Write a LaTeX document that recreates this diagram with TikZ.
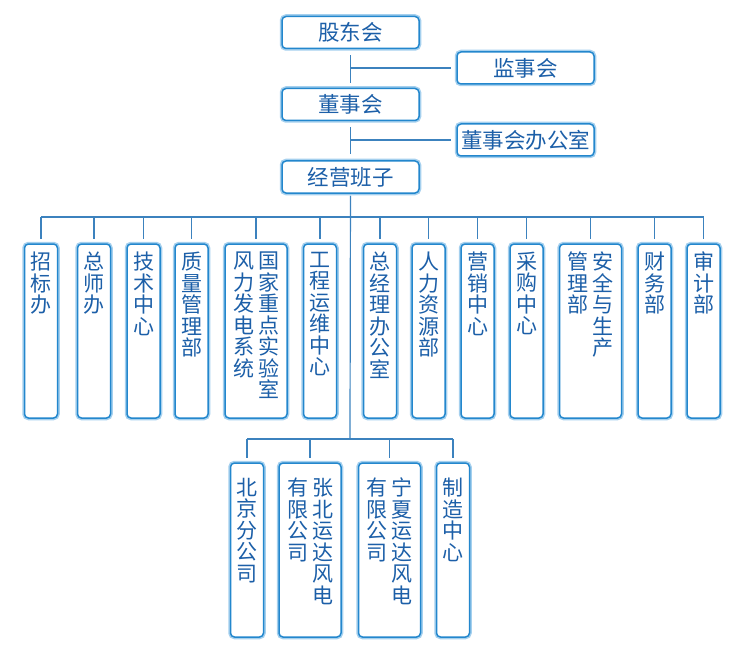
\documentclass[tikz,border=0pt]{standalone}
\usepackage{fontspec}
\newfontfamily\cjk{Noto Sans CJK SC}
\usetikzlibrary{positioning}
\definecolor{orgLine}{RGB}{60,130,190}
\definecolor{orgEdge}{RGB}{35,135,205}
\definecolor{orgGlow}{RGB}{165,208,238}
\definecolor{orgText}{RGB}{28,95,168}
% one column of stacked characters
\newcommand{\vcol}[1]{\parbox[t]{21pt}{\centering #1}}
% text hung from the top of a department box
\newcommand{\deptlabel}[2][158pt]{\parbox[c][#1][t]{0pt}{\hbox to 0pt{\hss#2\hss}}}

\begin{document}
\begin{tikzpicture}[x=1pt,y=-1pt,
  box/.style={draw=orgEdge, line width=1.5pt, rounded corners=4pt, fill=white,
    text=orgText, font=\cjk\fontsize{21}{21.5}\selectfont,
    preaction={draw=orgGlow, line width=4.5pt}},
  head/.style={box, minimum width=137pt, minimum height=32pt, inner sep=0pt,
    font=\cjk\fontsize{21.5}{22}\selectfont},
  dept/.style={box, minimum width=33pt, minimum height=174pt, inner sep=0pt},
  wide/.style={dept, minimum width=62pt},
  link/.style={draw=orgLine, line width=1.2pt}]
  \useasboundingbox (0,0) rectangle (755,658);

  % top of the chart
  \node[head] (gdh) at (350.5,32.5) {股东会};
  \node[head] (jsh) at (525.5,68) {监事会};
  \node[head] (dsh) at (350.5,104.5) {董事会};
  \node[head] (dsb) at (525.5,140) {董事会办公室};
  \node[head] (ops) at (350.5,177) {经营班子};

  \draw[link, shorten <=6pt, shorten >=5pt] (gdh) -- (dsh);
  \draw[link, shorten >=5pt] (gdh.south |- jsh) -- (jsh);
  \draw[link, shorten <=6pt, shorten >=6pt] (dsh) -- (ops);
  \draw[link, shorten >=5pt] (dsh.south |- dsb) -- (dsb);

  % departments
  \node[dept] (zbb) at (41,331) {\deptlabel{\vcol{招\\标\\办}}};
  \node[dept] (zsb) at (94,331) {\deptlabel{\vcol{总\\师\\办}}};
  \node[dept] (jszx) at (143.5,331) {\deptlabel{\vcol{技\\术\\中\\心}}};
  \node[dept] (zlb) at (191.5,331) {\deptlabel{\vcol{质\\量\\管\\理\\部}}};
  \node[wide] (gjsys) at (256,331) {\deptlabel{\vcol{风\\力\\发\\电\\系\\统}\hspace{4pt}\vcol{国\\家\\重\\点\\实\\验\\室}}};
  \node[dept] (gcyw) at (320,331) {\deptlabel{\vcol{工\\程\\运\\维\\中\\心}}};
  \node[dept] (zjb) at (380,331) {\deptlabel{\vcol{总\\经\\理\\办\\公\\室}}};
  \node[dept] (rlzy) at (428.5,331) {\deptlabel{\vcol{人\\力\\资\\源\\部}}};
  \node[dept] (yxzx) at (477.5,331) {\deptlabel{\vcol{营\\销\\中\\心}}};
  \node[dept] (cgzx) at (526.5,331) {\deptlabel{\vcol{采\\购\\中\\心}}};
  \node[wide] (aqsc) at (590.5,331) {\deptlabel{\vcol{管\\理\\部}\hspace{4pt}\vcol{安\\全\\与\\生\\产}}};
  \node[dept] (cwb) at (654.5,331) {\deptlabel{\vcol{财\\务\\部}}};
  \node[dept] (sjb) at (703.5,331) {\deptlabel{\vcol{审\\计\\部}}};

  % subsidiaries
  \node[dept] (bjfgs) at (247,550) {\deptlabel[144pt]{\vcol{北\\京\\分\\公\\司}}};
  \node[wide] (zbyd) at (310,550) {\deptlabel[144pt]{\vcol{有\\限\\公\\司}\hspace{4pt}\vcol{张\\北\\运\\达\\风\\电}}};
  \node[wide] (nxyd) at (389.5,550) {\deptlabel[144pt]{\vcol{有\\限\\公\\司}\hspace{4pt}\vcol{宁\\夏\\运\\达\\风\\电}}};
  \node[dept] (zzzx) at (453,550) {\deptlabel[144pt]{\vcol{制\\造\\中\\心}}};

  % buses
  \coordinate (bus1) at (350,217);
  \coordinate (bus2) at (350,439);
  \draw[link, shorten <=2pt] (ops) -- (bus2);
  \draw[link] (zbb |- bus1) -- (sjb |- bus1);
  \foreach \d in {zbb,zsb,jszx,zlb,gjsys,gcyw,zjb,rlzy,yxzx,cgzx,aqsc,cwb,sjb}
    \draw[link, shorten >=4pt] (\d |- bus1) -- (\d);
  \draw[link] (bjfgs |- bus2) -- (zzzx |- bus2);
  \foreach \d in {bjfgs,zbyd,nxyd,zzzx}
    \draw[link, shorten >=4pt] (\d |- bus2) -- (\d);
\end{tikzpicture}
\end{document}
